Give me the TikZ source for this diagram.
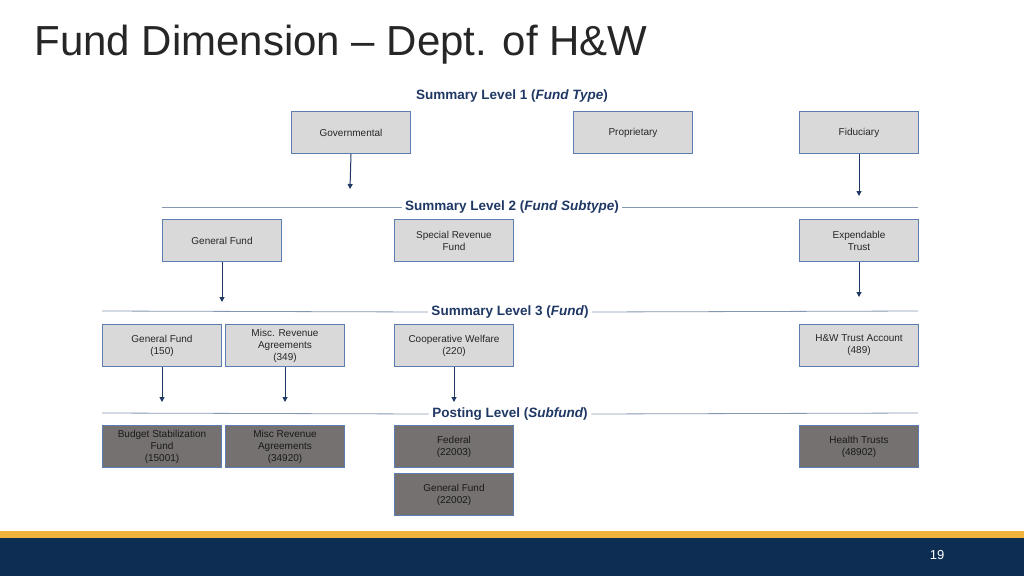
\documentclass[tikz,border=0pt]{standalone}
\usepackage{fontspec}
\setmainfont{Liberation Sans}
\usetikzlibrary{arrows.meta}
\definecolor{navy}{HTML}{1F3864}
\definecolor{boxline}{HTML}{5B7DB1}
\definecolor{lightbox}{HTML}{D9D9D9}
\definecolor{darkbox}{HTML}{767171}
\definecolor{stripe}{HTML}{F2B33D}
\definecolor{band}{HTML}{0E2D52}
\definecolor{rulec}{HTML}{8497B0}
\begin{document}
\begin{tikzpicture}[x=1pt,y=-1pt,
 fbox/.style={draw=boxline,line width=1pt,fill=lightbox,minimum width=119pt,minimum height=42pt,inner sep=1pt,align=center,font=\fontsize{10}{12}\selectfont,text=black!85,anchor=north west},
 pbox/.style={fbox,fill=darkbox,text=black!90},
 lvl/.style={font=\bfseries\fontsize{13.5}{16}\selectfont,text=navy},
 arr/.style={draw=navy,line width=1pt,-{Triangle[length=5pt,width=5pt]}},
 hr/.style={draw=rulec,line width=0.8pt}]
\useasboundingbox (0,0) rectangle (1024,576);
\fill[white] (0,0) rectangle (1024,576);
\node[anchor=west,font=\fontsize{42}{48}\selectfont,text=black!85] (title) at (31,45) {Fund Dimension – Dept. of H\&W};
\node[lvl] (l1) at (512,96) {Summary Level 1 (\textit{Fund Type})};
\node[fbox] (gov) at (291,111) {Governmental};
\node[fbox] (prop) at (573,111) {Proprietary};
\node[fbox] (fid) at (799,111) {Fiduciary};
\node[lvl] (l2) at (512,207) {Summary Level 2 (\textit{Fund Subtype})};
\draw[hr] (162,207) -- (l2.west); \draw[hr] (l2.east) -- (918,207);
\node[fbox] (gf) at (162,219) {General Fund};
\node[fbox] (srf) at (394,219) {Special Revenue\\Fund};
\node[fbox] (et) at (799,219) {Expendable\\Trust};
\node[lvl] (l3) at (510,312) {Summary Level 3 (\textit{Fund})};
\draw[hr] (102,311) -- (l3.west); \draw[hr] (l3.east) -- (918,311);
\node[fbox] (gf150) at (102,324) {General Fund\\(150)};
\node[fbox] (mra) at (225,324) {Misc. Revenue\\Agreements\\(349)};
\node[fbox] (cw) at (394,324) {Cooperative Welfare\\(220)};
\node[fbox] (hw) at (799,324) {H\&W Trust Account\\(489)};
\node[lvl] (pl) at (510,414) {Posting Level (\textit{Subfund})};
\draw[hr] (102,413) -- (pl.west); \draw[hr] (pl.east) -- (918,413);
\node[pbox] (bsf) at (102,425) {Budget Stabilization\\Fund\\(15001)};
\node[pbox] (mra2) at (225,425) {Misc Revenue\\Agreements\\(34920)};
\node[pbox] (fed) at (394,425) {Federal\\(22003)};
\node[pbox] (gf2) at (394,473) {General Fund\\(22002)};
\node[pbox] (ht) at (799,425) {Health Trusts\\(48902)};
\coordinate (a1) at (350,189); \coordinate (a2) at (859,196);
\coordinate (a3) at (222,302); \coordinate (a4) at (859,297);
\coordinate (a5) at (162,402); \coordinate (a6) at (285,402); \coordinate (a7) at (454,402);
\draw[arr] (gov.south) -- (a1);
\draw[arr] (fid.south) -- (a2);
\draw[arr] (gf.south) -- (a3);
\draw[arr] (et.south) -- (a4);
\draw[arr] (gf150.south) -- (a5);
\draw[arr] (mra.south) -- (a6);
\draw[arr] (cw.south) -- (a7);
\fill[stripe] (0,531) rectangle (1024,538);
\fill[band] (0,538) rectangle (1024,576);
\node[text=white,font=\fontsize{13}{15}\selectfont] (pg) at (937,555) {19};
\end{tikzpicture}
\end{document}
